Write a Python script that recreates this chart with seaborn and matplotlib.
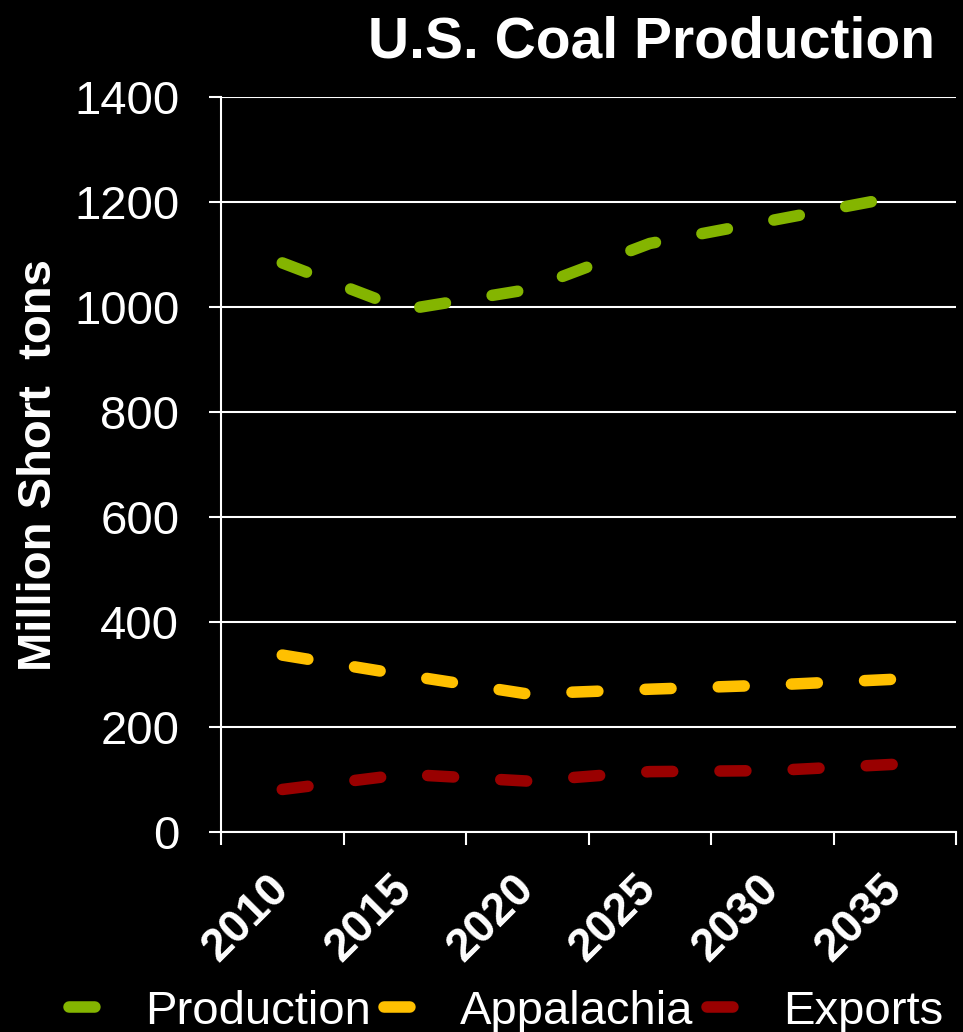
import matplotlib
matplotlib.use("Agg")
import matplotlib.pyplot as plt
import seaborn as sns
import pandas as pd

# Projected U.S. coal figures (million short tons)
years = ["2010", "2015", "2020", "2025", "2030", "2035"]
production = [1084, 995, 1033, 1121, 1165, 1209]
appalachia = [337, 299, 263, 272, 280, 291]
exports = [81, 110, 97, 115, 117, 129]

series_names = ["Production", "Appalachia", "Exports"]
series_colors = ["#84B500", "#FFC000", "#990000"]

y_ticks = [0, 200, 400, 600, 800, 1000, 1200, 1400]

sns.set_theme(style="dark")
plt.rcParams["font.family"] = ["Liberation Sans", "DejaVu Sans"]

rows = []
for name, vals in zip(series_names, [production, appalachia, exports]):
    for i, (yr, v) in enumerate(zip(years, vals)):
        rows.append({"pos": i, "year": yr, "value": v, "series": name})
df = pd.DataFrame(rows)

fig = plt.figure(figsize=(9.63, 10.32), dpi=100, facecolor="black")
ax = fig.add_axes([0.2295, 0.1938, 0.76324, 0.71221])
ax.set_facecolor("black")

lw = 8.3
sns.lineplot(
    data=df, x="pos", y="value", hue="series", style="series",
    hue_order=series_names, style_order=series_names,
    palette=series_colors, dashes=[(2.25, 4.1)] * 3,
    linewidth=lw, ax=ax, legend=True, zorder=3,
)
for line in ax.get_lines():
    line.set_dash_capstyle("round")
    line.set_solid_capstyle("round")

handles, labels = ax.get_legend_handles_labels()
ax.get_legend().remove()

ax.set_xlim(-0.5, 5.5)
ax.set_ylim(0, 1400)

# Tick marks sit on category boundaries, labels at category centres
ax.set_xticks([i - 0.5 for i in range(len(years) + 1)])
ax.set_xticklabels([])
ax.set_xticks(range(len(years)), minor=True)
ax.set_xticklabels(years, minor=True, rotation=45, ha="right",
                   va="center", rotation_mode="anchor",
                   fontsize=33, fontweight="bold", color="white")
ax.tick_params(axis="x", which="major", direction="out", length=9.5,
               width=1.5, color="white", bottom=True)
ax.tick_params(axis="x", which="minor", length=0, pad=36, bottom=True)

ax.set_yticks(y_ticks)
ax.set_yticklabels([str(v) for v in y_ticks], fontsize=34, color="white")
ax.tick_params(axis="y", direction="out", length=9, width=1.5,
               color="white", pad=21, left=True)

ax.grid(axis="y", color="white", linewidth=1.5, zorder=1)
ax.grid(axis="x", visible=False)
for side in ["top", "right"]:
    ax.spines[side].set_visible(False)
for side in ["left", "bottom"]:
    ax.spines[side].set_visible(True)
    ax.spines[side].set_color("white")
    ax.spines[side].set_linewidth(1.5)

ax.set_xlabel("")
ax.set_ylabel("")

fig.text(935 / 963, 1 - 58 / 1032, "U.S. Coal Production", ha="right",
         va="baseline", fontsize=41, fontweight="bold", color="white")
fig.text(39 / 963, 1 - 465 / 1032, "Million Short  tons", rotation=90,
         ha="center", va="center", fontsize=34, fontweight="bold",
         color="white")

fig.legend(handles, labels, loc="center",
           bbox_to_anchor=(506 / 963, 1 - 1012 / 1032), ncol=3,
           frameon=False, fontsize=34, handlelength=0.65,
           handletextpad=0.97, columnspacing=0.27, labelcolor="white")

fig.savefig("out.png", dpi=100, facecolor="black")
